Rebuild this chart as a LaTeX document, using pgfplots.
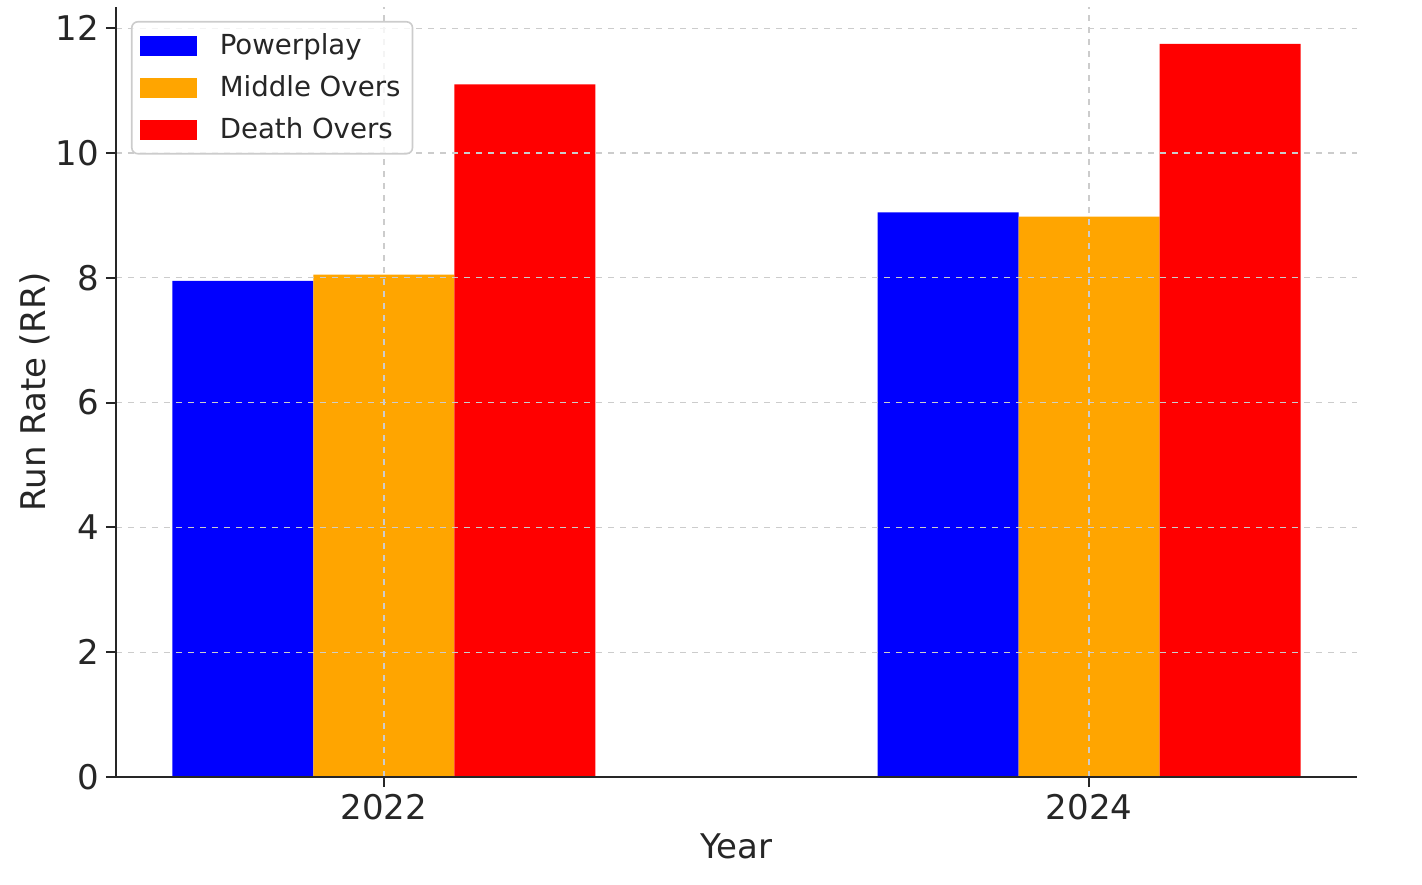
\documentclass[border=0pt]{standalone}
\usepackage{fontspec}
\setmainfont{DejaVu Sans}
\usepackage{pgfplots}
\pgfplotsset{compat=1.18}

\definecolor{mplorange}{RGB}{255,165,0}
\definecolor{txt}{RGB}{38,38,38}
\definecolor{gridgray}{RGB}{204,204,204}

\pgfplotstableread{
x   pp     mid    death
0   7.95   8.05   11.10
1   9.05   8.98   11.75
}\runrates

\begin{document}
\begin{tikzpicture}
    \begin{axis}[
            scale only axis,
            width=620.5pt, height=385pt,
            xmin=-0.38, xmax=1.38,
            ymin=0, ymax=12.34,
            xtick={0,1}, xticklabels={2022,2024},
            ytick={0,2,4,6,8,10,12},
            axis x line*=bottom, axis y line*=left,
            axis line style={line width=1.2pt, txt, -},
            tick style={line width=1pt, txt},
            tick align=outside,
            major tick length=5pt,
            grid=major,
            major grid style={dashed, gridgray, line width=0.6pt},
            axis on top,
            ticklabel style={font=\fontsize{17}{20}\selectfont, text=txt},
            /pgf/number format/assume math mode=true,
            xlabel={Year}, ylabel={Run Rate (RR)},
            label style={font=\fontsize{17}{20}\selectfont, text=txt},
            xlabel style={yshift=0pt},
            ylabel style={yshift=-4pt},
            ybar, bar width=0.2,
            legend style={
                at={(0,1)}, anchor=north west,
                xshift=7.5pt, yshift=-7pt,
                draw=gridgray, line width=0.8pt, rounded corners=3pt,
                fill=white, fill opacity=0.8, text opacity=1,
                font=\fontsize{13.8}{16}\selectfont, text=txt,
                inner xsep=4pt, inner ysep=4pt,
                row sep=5pt,
                cells={anchor=west},
            },
            legend image code/.code={
                \fill[#1, fill opacity=1, sharp corners] (0pt,-5pt) rectangle (28.5pt,5pt);
                \path (38pt,0pt);
            },
        ]
        \addplot[fill=blue, draw=none, bar shift=-0.2] table[x=x, y=pp] {\runrates};
        \addlegendentry{Powerplay}
        \addplot[fill=mplorange, draw=none, bar shift=0] table[x=x, y=mid] {\runrates};
        \addlegendentry{Middle Overs}
        \addplot[fill=red, draw=none, bar shift=0.2] table[x=x, y=death] {\runrates};
        \addlegendentry{Death Overs}
    \end{axis}
    \path (current axis.north east) ++(32.5pt,3.5pt) rectangle ([shift={(-58pt,-53.5pt)}]current axis.south west);
\end{tikzpicture}
\end{document}
